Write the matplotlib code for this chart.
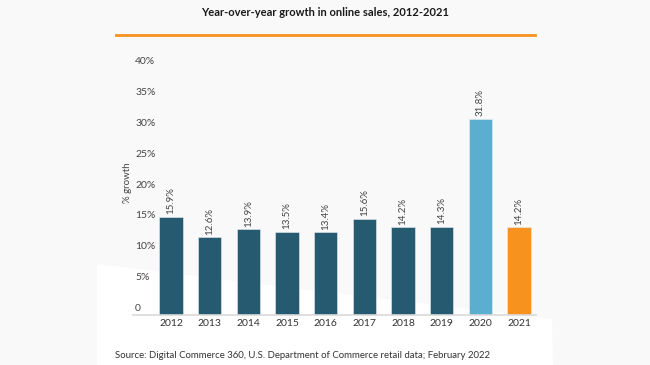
import matplotlib.pyplot as plt
from matplotlib.patches import Polygon
from matplotlib.transforms import ScaledTranslation

# --- Data ---
years = ["2012", "2013", "2014", "2015", "2016", "2017", "2018", "2019", "2020", "2021"]
growth = [15.9, 12.6, 13.9, 13.5, 13.4, 15.6, 14.2, 14.3, 31.8, 14.2]
bar_colors = ["#265a70"] * 8 + ["#5caed1", "#f7921f"]
yticks = [0, 5, 10, 15, 20, 25, 30, 35, 40]
ytick_labels = ["0", "5%", "10%", "15%", "20%", "25%", "30%", "35%", "40%"]

plt.rcParams['font.family'] = ['Lato', 'DejaVu Sans']

W, H = 650, 365
fig = plt.figure(figsize=(6.5, 3.65), dpi=100, facecolor="#f9f9f9")

# white swoosh in the lower left of the background
def px(x, y):
    return (x / W, 1 - y / H)

swoosh = Polygon([px(97, 264), px(250, 283), px(420, 303), px(552, 319),
                  px(553, 365), px(97, 365)],
                 closed=True, transform=fig.transFigure, facecolor="white",
                 edgecolor="none", zorder=-5)
fig.patches.append(swoosh)

# --- Title and orange rule ---
fig.text(325.5 / W, 1 - 13 / H, "Year-over-year growth in online sales, 2012-2021",
         ha="center", va="center", fontsize=8, fontweight="bold", color="#1a1a1a")
fig.add_artist(plt.Line2D([116 / W, 535 / W], [1 - 34.5 / H] * 2,
                          transform=fig.transFigure, color="#f7921f", lw=2))

# --- Axes ---
ax = fig.add_axes((133 / W, 50 / H, 403 / W, 246.6 / H))
ax.set_zorder(1)
ax.patch.set_alpha(0)
x = list(range(len(years)))
bars = ax.bar(x, growth, width=0.6, color=bar_colors, edgecolor="#e8eef2",
              linewidth=0.4, zorder=2)
ax.set_xlim(-0.983, 9.44)
ax.set_ylim(0, 40)

for rect, v in zip(bars, growth):
    ax.annotate(f"{v}%", (rect.get_x() + rect.get_width() / 2, v),
                xytext=(0, 2), textcoords="offset points", rotation=90,
                ha="center", va="bottom", fontsize=7, color="#444444")

ax.set_xticks(x)
ax.set_xticklabels(years, fontsize=7.5, color="#333333")
ax.set_yticks(yticks)
ax.set_yticklabels(ytick_labels, fontsize=7.5, color="#444444")
ax.tick_params(axis="x", length=0, pad=3)
ax.tick_params(axis="y", length=0, pad=-1.5)
shift = ScaledTranslation(0, 1.5 / 72, fig.dpi_scale_trans)
for lab in ax.get_yticklabels():
    lab.set_ha("left")
    lab.set_va("bottom")
    lab.set_transform(lab.get_transform() + shift)

for side in ["top", "right", "left"]:
    ax.spines[side].set_visible(False)
ax.spines["bottom"].set_color("#d9d9d9")
ax.spines["bottom"].set_linewidth(1.2)

fig.text(128 / W, 1 - 183 / H, "% growth", rotation=90, ha="center", va="center",
         fontsize=7, color="#444444")

fig.text(115 / W, 1 - 355 / H,
         "Source: Digital Commerce 360, U.S. Department of Commerce retail data; February 2022",
         ha="left", va="center", fontsize=6.9, color="#333333")

fig.savefig("out.png", dpi=100, facecolor=fig.get_facecolor())
